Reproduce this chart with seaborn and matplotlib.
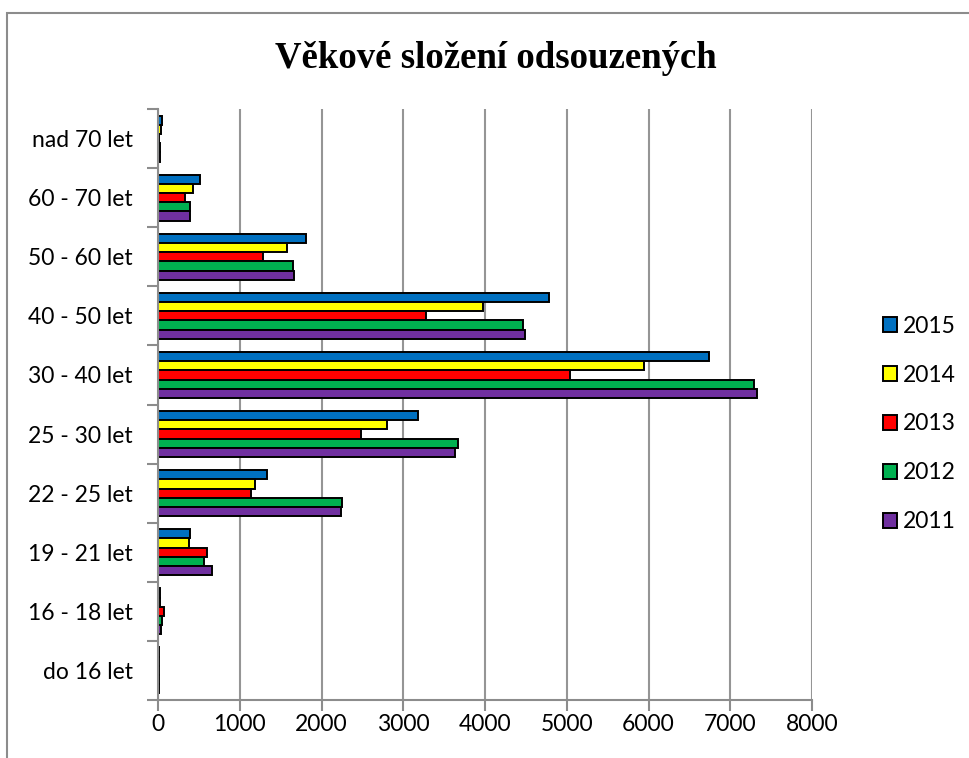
import numpy as np
import pandas as pd
import matplotlib
matplotlib.use("Agg")
import matplotlib.pyplot as plt
import seaborn as sns
from matplotlib.patches import Rectangle
from matplotlib.ticker import FixedLocator

# Kategorie (shora dolu) a hodnoty podle roku
kategorie = ["nad 70 let", "60 - 70 let", "50 - 60 let", "40 - 50 let", "30 - 40 let",
             "25 - 30 let", "22 - 25 let", "19 - 21 let", "16 - 18 let", "do 16 let"]
roky = ["2015", "2014", "2013", "2012", "2011"]
hodnoty_2015 = [55, 508, 1814, 4787, 6738, 3175, 1328, 395, 28, 10]
hodnoty_2014 = [37, 426, 1574, 3978, 5951, 2803, 1189, 383, 28, 8]
hodnoty_2013 = [8, 335, 1279, 3273, 5044, 2481, 1141, 603, 74, 10]
hodnoty_2012 = [25, 388, 1656, 4464, 7290, 3667, 2253, 566, 49, 12]
hodnoty_2011 = [25, 397, 1667, 4492, 7328, 3639, 2244, 660, 37, 10]
barvy = ["#0070C0", "#FFFF00", "#FF0000", "#00B050", "#7030A0"]

serie = [hodnoty_2015, hodnoty_2014, hodnoty_2013, hodnoty_2012, hodnoty_2011]
df = pd.DataFrame({
    "kategorie": kategorie * len(roky),
    "rok": np.repeat(roky, len(kategorie)),
    "pocet": np.concatenate(serie),
})

sns.set_style("white")
plt.rcParams["font.family"] = ["Lato", "DejaVu Sans"]
plt.rcParams["text.color"] = "black"
plt.rcParams["xtick.color"] = "black"
plt.rcParams["ytick.color"] = "black"

fig = plt.figure(figsize=(9.69, 7.58), dpi=100)
ax = fig.add_axes([158 / 969, 1 - 700 / 758, (812 - 158) / 969, (700 - 109) / 758])

sns.barplot(data=df, y="kategorie", x="pocet", hue="rok", order=kategorie,
            hue_order=roky, palette=barvy, orient="h", width=0.78,
            edgecolor="black", linewidth=1.4, saturation=1, ax=ax, legend=True)

ax.set_xlim(0, 8000)
ax.set_ylim(len(kategorie) - 0.5, -0.5)
ax.set_xticks(range(0, 8001, 1000))
ax.grid(axis="x", color="#959595", linewidth=1.5)
ax.set_axisbelow(True)
ax.set_xlabel("")
ax.set_ylabel("")

for s in ["top", "right"]:
    ax.spines[s].set_visible(False)
for s in ["left", "bottom"]:
    ax.spines[s].set_color("#8c8c8c")
    ax.spines[s].set_linewidth(1.5)

# ticky na hranicich kategorii
ax.yaxis.set_minor_locator(FixedLocator(np.arange(-0.5, len(kategorie), 1.0)))
ax.tick_params(axis="y", which="major", length=0, labelsize=16.5, pad=18, labelcolor="black")
ax.tick_params(axis="y", which="minor", length=8, width=1.5, color="#8c8c8c", direction="out", left=True)
ax.tick_params(axis="x", which="major", length=8, width=1.5, color="#8c8c8c", direction="out",
               bottom=True, labelsize=16.5, pad=2, labelcolor="black")

handles, labels = ax.get_legend_handles_labels()
ax.get_legend().remove()
leg = fig.legend(handles, labels, loc="center left", bbox_to_anchor=(872 / 969, 1 - 424 / 758),
                 frameon=False, fontsize=16.5, handlelength=0.6, handleheight=0.6,
                 handletextpad=0.25, labelspacing=1.22, borderpad=0)

fig.text(496 / 969, 1 - 58 / 758, "Věkové složení odsouzených", ha="center", va="center",
         fontsize=26.5, fontweight="bold", family="Liberation Serif", color="black")

# ramecek grafu
fig.patches.append(Rectangle((7 / 969, -0.1), 1.2, 1 - 13 / 758 + 0.1, transform=fig.transFigure,
                             fill=False, edgecolor="#8c8c8c", linewidth=1.5))

fig.savefig("out.png", dpi=100)
